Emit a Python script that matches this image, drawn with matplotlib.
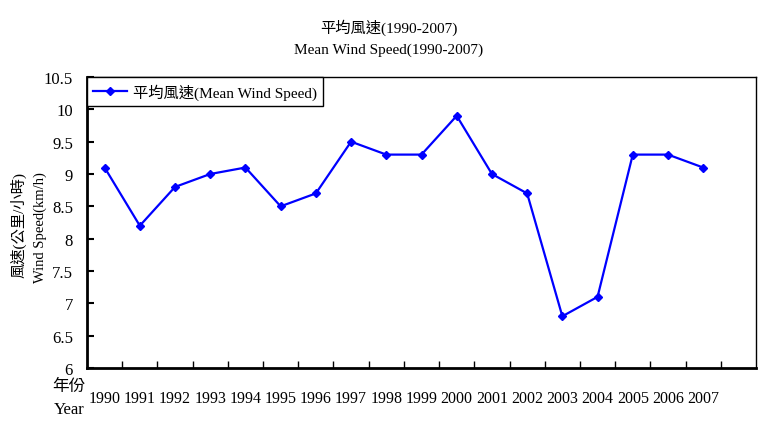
import matplotlib
matplotlib.use('Agg')
import matplotlib.pyplot as plt
from matplotlib.ticker import FixedLocator, MultipleLocator

plt.rcParams['font.family'] = ['Liberation Serif', 'Noto Sans CJK TC', 'DejaVu Sans']

years = ['1990', '1991', '1992', '1993', '1994', '1995', '1996', '1997', '1998',
         '1999', '2000', '2001', '2002', '2003', '2004', '2005', '2006', '2007']
speeds = [9.1, 8.2, 8.8, 9.0, 9.1, 8.5, 8.7, 9.5, 9.3,
          9.3, 9.9, 9.0, 8.7, 6.8, 7.1, 9.3, 9.3, 9.1]

fig = plt.figure(figsize=(7.77, 4.39), dpi=100)
ax = fig.add_axes([87/777, 1 - 369/439, (756 - 87)/777, (369 - 78)/439])

x = list(range(len(years)))
ax.plot(x, speeds, color='#0000ff', lw=1.6, marker='D', ms=4,
        label='平均風速(Mean Wind Speed)')

# one empty category slot after 2007, like the original
ax.set_xlim(-0.5, len(years) + 0.5)
ax.set_ylim(6, 10.5)
ax.yaxis.set_major_locator(MultipleLocator(0.5))
ax.set_yticklabels([f'{v:g}' for v in ax.get_yticks()])
ax.set_xticks(x)
ax.set_xticklabels(years)
ax.xaxis.set_minor_locator(FixedLocator([i + 0.5 for i in range(len(years))]))

ax.tick_params(axis='y', direction='in', length=5, width=1.5, labelsize=12, pad=10)
ax.tick_params(axis='x', which='major', length=0, labelsize=11.5, pad=16)
ax.tick_params(axis='x', which='minor', direction='in', length=5, width=1)

ax.spines['left'].set_linewidth(2)
ax.spines['bottom'].set_linewidth(2)
ax.spines['top'].set_linewidth(1)
ax.spines['right'].set_linewidth(1)

leg = ax.legend(loc='upper left', bbox_to_anchor=(0, 1), fontsize=11, frameon=True,
                fancybox=False, edgecolor='black', framealpha=1, borderpad=0.4,
                handlelength=2.2, handletextpad=0.4, borderaxespad=0)
leg.get_frame().set_linewidth(1)

fig.text(0.5, 1 - 28/439, '平均風速(1990-2007)', ha='center', va='center', fontsize=11)
fig.text(0.5, 1 - 50/439, 'Mean Wind Speed(1990-2007)', ha='center', va='center', fontsize=11)

fig.text(18/777, 1 - 225/439, '風速(公里/小時)', rotation=90, ha='center', va='center', fontsize=11)
fig.text(40/777, 1 - 228/439, 'Wind Speed(km/h)', rotation=90, ha='center', va='center', fontsize=10.5)

fig.text(69/777, 1 - 387/439, '年份', ha='center', va='center', fontsize=12)
fig.text(69/777, 1 - 410/439, 'Year', ha='center', va='center', fontsize=12)

fig.savefig('out.png', dpi=100)
